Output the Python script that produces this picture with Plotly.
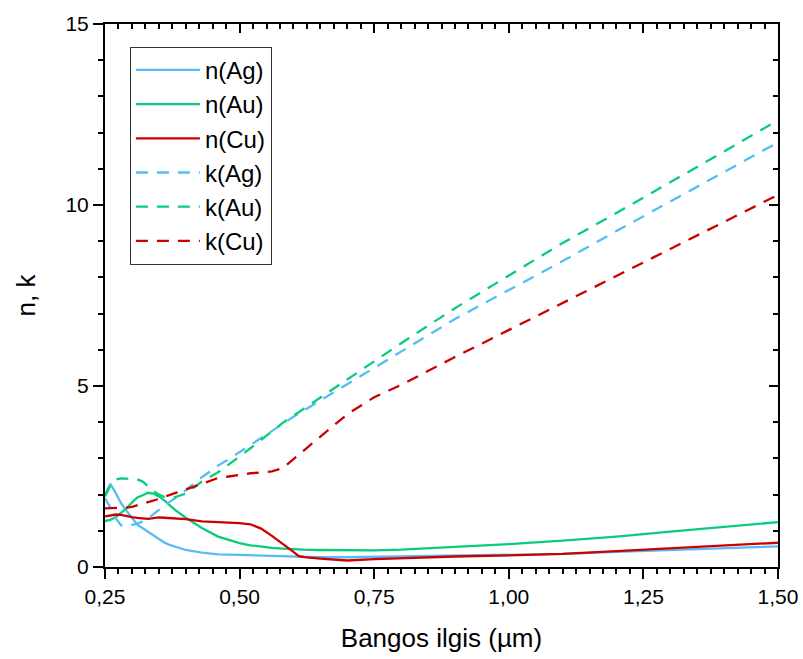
import plotly.graph_objects as go

# Wavelength grid (µm)
wavelength = [0.25, 0.26, 0.27, 0.28, 0.29, 0.30, 0.31, 0.32, 0.33, 0.34, 0.35, 0.36, 0.37,
              0.38, 0.40, 0.43, 0.46, 0.48, 0.50, 0.52, 0.54, 0.56, 0.58, 0.60, 0.61, 0.62,
              0.65, 0.70, 0.75, 0.80, 0.90, 1.00, 1.10, 1.20, 1.30, 1.40, 1.50]

n_ag = [2.00, 2.30, 2.04, 1.76, 1.55, 1.36, 1.17, 1.07, 0.97, 0.87, 0.78, 0.68, 0.61,
        0.56, 0.47, 0.40, 0.35, 0.34, 0.33, 0.32, 0.31, 0.30, 0.29, 0.28, 0.28, 0.28,
        0.27, 0.27, 0.28, 0.29, 0.30, 0.32, 0.36, 0.42, 0.47, 0.52, 0.57]

n_au = [1.27, 1.30, 1.38, 1.50, 1.62, 1.78, 1.92, 1.98, 2.05, 2.03, 1.95, 1.84, 1.71,
        1.58, 1.36, 1.08, 0.84, 0.74, 0.66, 0.60, 0.56, 0.53, 0.51, 0.49, 0.48, 0.48,
        0.47, 0.46, 0.46, 0.48, 0.55, 0.63, 0.73, 0.84, 0.98, 1.10, 1.24]

n_cu = [1.40, 1.43, 1.45, 1.44, 1.40, 1.38, 1.36, 1.35, 1.33, 1.35, 1.37, 1.36, 1.35,
        1.34, 1.32, 1.26, 1.24, 1.24, 1.21, 1.18, 1.06, 0.86, 0.65, 0.42, 0.30, 0.27,
        0.23, 0.18, 0.22, 0.25, 0.29, 0.32, 0.36, 0.44, 0.52, 0.60, 0.67]

k_ag = [1.90, 1.65, 1.35, 1.15, 1.12, 1.15, 1.20, 1.26, 1.33, 1.46, 1.58, 1.70, 1.80,
        1.90, 2.12, 2.48, 2.80, 2.98, 3.17, 3.38, 3.57, 3.76, 3.95, 4.15, 4.24, 4.33,
        4.61, 5.07, 5.52, 5.95, 6.85, 7.65, 8.45, 9.28, 10.10, 10.92, 11.73]

k_au = [1.95, 2.25, 2.42, 2.45, 2.44, 2.43, 2.42, 2.36, 2.22, 2.10, 2.00, 1.94, 1.91,
        1.93, 2.03, 2.36, 2.62, 2.83, 3.05, 3.28, 3.52, 3.75, 3.98, 4.18, 4.28, 4.37,
        4.68, 5.18, 5.68, 6.18, 7.15, 8.05, 8.95, 9.78, 10.62, 11.48, 12.34]

k_cu = [1.62, 1.62, 1.62, 1.62, 1.64, 1.66, 1.70, 1.75, 1.80, 1.84, 1.88, 1.94, 2.00,
        2.04, 2.14, 2.30, 2.46, 2.50, 2.55, 2.59, 2.61, 2.64, 2.73, 2.98, 3.10, 3.22,
        3.58, 4.22, 4.69, 5.03, 5.80, 6.55, 7.30, 8.05, 8.80, 9.55, 10.28]

x_ticks = [0.25, 0.50, 0.75, 1.00, 1.25, 1.50]
y_ticks = [0, 5, 10, 15]

BLUE = "#55bdf5"
GREEN = "#08cc7a"
RED = "#cc0000"
FONT = "Liberation Sans, Arial, sans-serif"

series = [
    ("n(Ag)", n_ag, BLUE, "solid"),
    ("n(Au)", n_au, GREEN, "solid"),
    ("n(Cu)", n_cu, RED, "solid"),
    ("k(Ag)", k_ag, BLUE, "12px,9px"),
    ("k(Au)", k_au, GREEN, "12px,9px"),
    ("k(Cu)", k_cu, RED, "12px,9px"),
]

fig = go.Figure()
for i, (name, vals, col, dash) in enumerate(series):
    fig.add_trace(go.Scatter(
        x=wavelength, y=vals, mode="lines", name=name,
        legendgroup=f"g{i}",
        line=dict(color=col, width=2.3, dash=dash),
    ))

# empty helper trace so the mirrored top/right axes are drawn
fig.add_trace(go.Scatter(x=[], y=[], xaxis="x2", yaxis="y2", showlegend=False,
                         hoverinfo="skip"))

axis_common = dict(showgrid=False, zeroline=False, showline=True, linecolor="black",
                   linewidth=2, tickcolor="black", tickwidth=1.8, automargin=False)

fig.update_layout(
    width=803, height=659,
    margin=dict(l=105, r=25, t=24, b=92),
    plot_bgcolor="white", paper_bgcolor="white",
    separators=", ",
    font=dict(family=FONT, color="black", size=21),
    showlegend=True,
    legend=dict(
        x=0.037, y=0.958, xanchor="left", yanchor="top",
        bgcolor="white", bordercolor="#333333", borderwidth=1,
        font=dict(size=24, family=FONT, color="black"),
        tracegroupgap=0, traceorder="grouped", itemwidth=64,
    ),
    xaxis=dict(
        range=[0.25, 1.5], tickvals=x_ticks, tickformat=".2f",
        ticks="outside", ticklen=10,
        minor=dict(ticks="outside", dtick=0.025, tick0=0.25, ticklen=5,
                   tickwidth=1.5, tickcolor="black"),
        title=dict(text="Bangos ilgis (µm)", font=dict(size=26, family=FONT), standoff=22),
        tickfont=dict(size=21, family=FONT),
        **axis_common,
    ),
    yaxis=dict(
        range=[0, 15], tickvals=y_ticks,
        ticks="outside", ticklen=10,
        minor=dict(ticks="outside", dtick=1, tick0=0, ticklen=5,
                   tickwidth=1.5, tickcolor="black"),
        title=dict(text="n, k", font=dict(size=26, family=FONT), standoff=22),
        tickfont=dict(size=21, family=FONT),
        **axis_common,
    ),
    xaxis2=dict(
        range=[0.25, 1.5], tickvals=x_ticks, overlaying="x", side="top", anchor="y2",
        ticks="inside", ticklen=9, showticklabels=False,
        minor=dict(ticks="inside", dtick=0.025, tick0=0.25, ticklen=5,
                   tickwidth=1.5, tickcolor="black"),
        **axis_common,
    ),
    yaxis2=dict(
        range=[0, 15], tickvals=y_ticks, overlaying="y", side="right", anchor="x2",
        ticks="inside", ticklen=9, showticklabels=False,
        minor=dict(ticks="inside", dtick=1, tick0=0, ticklen=5,
                   tickwidth=1.5, tickcolor="black"),
        **axis_common,
    ),
)

fig.write_html("out.html")
